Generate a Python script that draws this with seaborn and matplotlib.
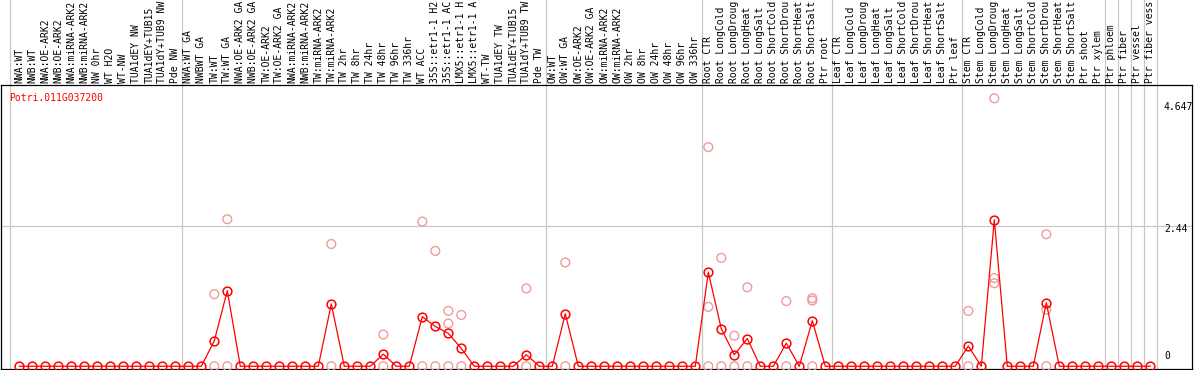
import matplotlib
matplotlib.use("Agg")
import matplotlib.pyplot as plt
import seaborn as sns
import pandas as pd
import numpy as np

gene_id = "Potri.011G037200"

labels = [
    # group 1
    "NWA:WT", "NWB:WT", "NWA:OE-ARK2", "NWB:OE-ARK2", "NWA:miRNA-ARK2", "NWB:miRNA-ARK2",
    "NW 0hr", "WT H2O", "WT-NW", "TUA1dEY NW", "TUA1dEY+TUB15", "TUA1dY+TUB9 NW", "Pde NW",
    # group 2
    "NWA:WT GA", "NWBWT GA", "TW:WT", "TW:WT GA", "NWA:OE-ARK2 GA", "NWB:OE-ARK2 GA",
    "TW:OE-ARK2", "TW:OE-ARK2 GA", "NWA:miRNA-ARK2", "NWB:miRNA-ARK2", "TW:miRNA-ARK2",
    "TW:miRNA-ARK2", "TW 2hr", "TW 8hr", "TW 24hr", "TW 48hr", "TW 96hr", "TW 336hr",
    "WT ACC", "35S::etr1-1 H2", "35S::etr1-1 AC", "LMX5::etr1-1 H", "LMX5::etr1-1 A",
    "WT-TW", "TUA1dEY TW", "TUA1dEY+TUB15", "TUA1dY+TUB9 TW", "Pde TW",
    # group 3
    "OW:WT", "OW:WT GA", "OW:OE-ARK2", "OW:OE-ARK2 GA", "OW:miRNA-ARK2", "OW:miRNA-ARK2",
    "OW 2hr", "OW 8hr", "OW 24hr", "OW 48hr", "OW 96hr", "OW 336hr",
    # group 4
    "Root CTR", "Root LongCold", "Root LongDroug", "Root LongHeat", "Root LongSalt",
    "Root ShortCold", "Root ShortDrou", "Root ShortHeat", "Root ShortSalt", "Ptr root",
    # group 5
    "Leaf CTR", "Leaf LongCold", "Leaf LongDroug", "Leaf LongHeat", "Leaf LongSalt",
    "Leaf ShortCold", "Leaf ShortDrou", "Leaf ShortHeat", "Leaf ShortSalt", "Ptr leaf",
    # group 6
    "Stem CTR", "Stem LongCold", "Stem LongDroug", "Stem LongHeat", "Stem LongSalt",
    "Stem ShortCold", "Stem ShortDrou", "Stem ShortHeat", "Stem ShortSalt", "Ptr shoot",
    "Ptr xylem",
    # singles
    "Ptr phloem", "Ptr fiber", "Ptr vessel", "Ptr fiber vess",
]

group_sizes = [13, 28, 12, 10, 10, 11, 1, 1, 1, 1]

mean_values = [
    # group 1
    0, 0, 0, 0, 0, 0, 0, 0, 0, 0, 0, 0, 0,
    # group 2
    0, 0, 0.44, 1.31, 0, 0, 0, 0, 0, 0, 0, 1.08, 0, 0, 0, 0.21, 0, 0,
    0.86, 0.69, 0.57, 0.31, 0, 0, 0, 0, 0.20, 0,
    # group 3
    0, 0.91, 0, 0, 0, 0, 0, 0, 0, 0, 0, 0,
    # group 4
    1.63, 0.65, 0.20, 0.48, 0, 0, 0.40, 0, 0.79, 0,
    # group 5
    0, 0, 0, 0, 0, 0, 0, 0, 0, 0,
    # group 6
    0.35, 0, 2.54, 0, 0, 0, 1.10, 0, 0, 0, 0,
    # singles
    0, 0, 0, 0,
]

rep_index = [15, 15, 16, 16, 24, 24, 28, 28, 31, 31, 32, 32, 33, 33, 33, 34, 34,
             39, 39, 42, 42, 53, 53, 53, 54, 54, 55, 55, 56, 56, 59, 59,
             61, 61, 61, 73, 73, 75, 75, 75, 79, 79, 79]
rep_value = [1.25, 0, 2.55, 0, 2.12, 0, 0.55, 0, 2.51, 0, 2.00, 0, 0.96, 0.74, 0, 0.89, 0,
             1.35, 0, 1.80, 0, 3.80, 1.03, 0, 1.88, 0, 0.53, 0, 1.37, 0, 1.13, 0,
             1.18, 1.14, 0, 0.96, 0, 4.647, 1.53, 1.44, 2.29, 0.98, 0]

y_ticks = [4.647, 2.44, 0]
y_tick_labels = ["4.647", "2.44", "0"]
y_tick_offsets_pt = [-6.3, -2.7, 7.1]

# ---------------------------------------------------------------- layout
W, H = 1194, 370
fig = plt.figure(figsize=(W / 100, H / 100), dpi=100)
fr_l, fr_r, fr_t, fr_b = 1, 1192, 85, 369
ax = fig.add_axes([fr_l / W, (H - fr_b) / H, (fr_r - fr_l) / W, (fr_b - fr_t) / H])

x0_px, dx_px = 19.3, 13.0
zero_px, dy_px = 371.8, 58.8
ax.set_xlim((fr_l - x0_px) / dx_px, (fr_r - x0_px) / dx_px)
ax.set_ylim(-(zero_px - fr_b) / dy_px, (zero_px - fr_t) / dy_px)

mono = "DejaVu Sans Mono"
fs = 7.0
grid_c = "#c8c8c8"

# grid lines (extend into header)
header_frac = fr_b / (fr_b - fr_t)
bounds = list(np.cumsum(group_sizes) - 0.5)
for b in [-0.7] + bounds:
    ax.axvline(b, ymin=0, ymax=header_frac, color=grid_c, lw=0.9, clip_on=False, zorder=1)
ax.axhline(2.44, color=grid_c, lw=0.9, zorder=1)

# replicates
df_rep = pd.DataFrame({"idx": rep_index, "value": rep_value})
sns.scatterplot(data=df_rep, x="idx", y="value", ax=ax, marker="o", s=40,
                color="#ec9c9c", clip_on=False, zorder=3, legend=False)
coll = ax.collections[-1]
coll.set_facecolor("none")
coll.set_edgecolor("#ec9c9c")
coll.set_linewidth(1.0)

# means
df_mean = pd.DataFrame({"idx": np.arange(len(labels)), "value": mean_values})
sns.lineplot(data=df_mean, x="idx", y="value", ax=ax, color="#ff0000", lw=0.9,
             marker="o", markersize=6.3, markerfacecolor="none",
             markeredgecolor="#ff0000", markeredgewidth=1.1, clip_on=False, zorder=4)

# x labels on top
ax.xaxis.tick_top()
ax.set_xticks(np.arange(len(labels)))
ax.set_xticklabels(labels, rotation=90, fontsize=fs, family=mono, color="black")
ax.tick_params(axis="x", length=0, pad=1.4)
ax.set_yticks([])
ax.set_xlabel("")
ax.set_ylabel("")

for sp in ax.spines.values():
    sp.set_color("black")
    sp.set_linewidth(0.9)

# y value labels inside the right panel
x_lab = (1164 - x0_px) / dx_px
for v, t, off in zip(y_ticks, y_tick_labels, y_tick_offsets_pt):
    ax.annotate(t, xy=(x_lab, v), xytext=(0, off), textcoords="offset points",
                ha="left", va="center", fontsize=fs, family=mono, color="black",
                annotation_clip=False)

# gene id
ax.text((9.3 - fr_l) / (fr_r - fr_l), (fr_b - 97.7) / (fr_b - fr_t), gene_id,
        transform=ax.transAxes, ha="left", va="center", color="#ff0000",
        fontsize=fs, family=mono)

fig.savefig("out.png", dpi=100)
